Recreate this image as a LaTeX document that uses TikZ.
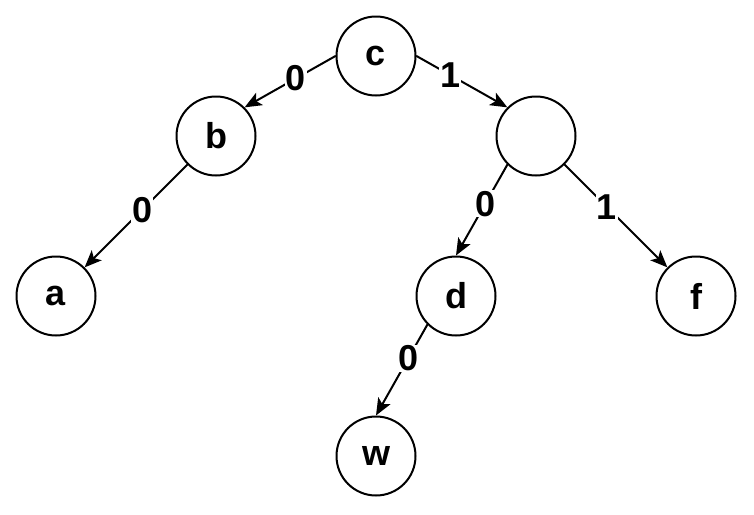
\documentclass[tikz,border=0pt]{standalone}
\usepackage{fontspec}
\setmainfont{Liberation Sans}
\usetikzlibrary{arrows.meta}

\begin{document}
\begin{tikzpicture}[x=1pt, y=-1pt, line cap=round, line join=round,
    vertex/.style={circle, draw=black, line width=2pt, minimum size=79pt,
                   inner sep=0pt, font=\fontsize{36pt}{36pt}\selectfont\bfseries},
    edge/.style={black, line width=2pt,
                 -{Stealth[length=17pt, width=14pt, inset=4pt]}},
    bit/.style={fill=white, inner sep=1pt,
                font=\fontsize{36pt}{36pt}\selectfont\bfseries}]

\useasboundingbox (0,0) rectangle (754,514);

% ---------------------------------------------------------
% Tree nodes
% ---------------------------------------------------------
\node[vertex] (c) at (376,56)  {c};
\node[vertex] (b) at (216,136) {b};
\node[vertex] (r) at (536,136) {};     % unlabelled inner node
\node[vertex] (a) at (56,296)  {a};
\node[vertex] (d) at (456,296) {d};
\node[vertex] (f) at (696,296) {f};
\node[vertex] (w) at (376,456) {w};

% ---------------------------------------------------------
% Edges with code bits
% ---------------------------------------------------------
\draw[edge] (c.west) -- node[bit, pos=0.44] {0} (b.45);
\draw[edge] (c.east) -- node[bit, pos=0.37] {1} (r.135);

\draw[edge] (b.225) -- node[bit, pos=0.44] {0} (a.45);

\draw[edge] (r.225) -- node[bit, pos=0.43] {0} (d.north);
\draw[edge] (r.315) -- node[bit, pos=0.41] {1} (f.135);

\draw[edge] (d.225) -- node[bit, pos=0.37] {0} (w.north);

\end{tikzpicture}
\end{document}
